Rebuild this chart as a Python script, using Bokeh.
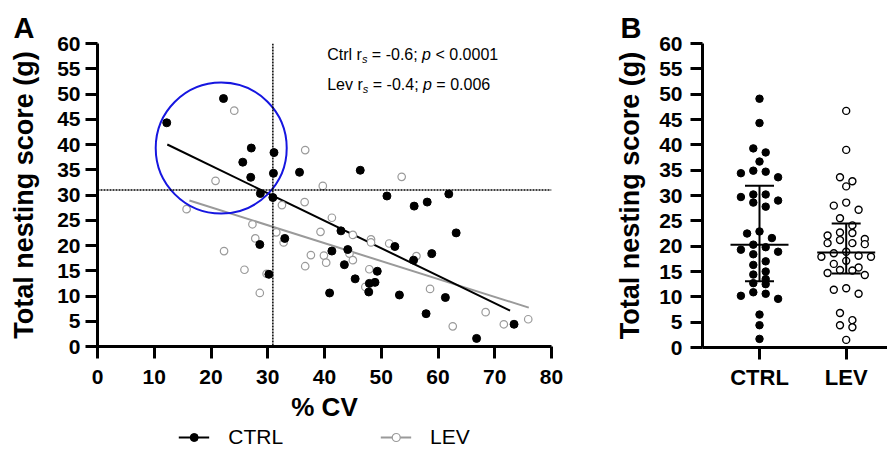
import numpy as np
from bokeh.plotting import figure
from bokeh.layouts import row, column
from bokeh.models import Span, Label, Legend, LegendItem, FixedTicker, Range1d
from bokeh.embed import file_html
from bokeh.resources import INLINE

# ---------------- Panel A data ----------------
ctrl_cv = [12.2, 22.2, 25.6, 27.0, 27.1, 28.6, 28.7, 30.2, 30.9, 31.0, 31.1, 33.0,
           35.6, 40.9, 41.3, 42.9, 43.5, 44.1, 45.4, 46.3, 47.8, 47.9, 48.9, 49.3,
           51.0, 52.4, 53.2, 55.7, 55.8, 57.9, 58.1, 58.9, 61.3, 61.9, 63.2, 66.8, 73.4]
ctrl_nest = [44.3, 49.1, 36.5, 33.5, 39.3, 20.2, 30.3, 14.3, 29.5, 34.3, 38.4, 21.4,
             34.5, 10.6, 18.9, 22.9, 16.2, 19.2, 13.4, 34.9, 10.8, 12.5, 12.7, 14.9,
             29.8, 19.8, 10.2, 17.1, 27.8, 6.5, 28.6, 18.4, 9.7, 30.2, 22.5, 1.6, 4.4]
lev_cv = [15.7, 20.8, 22.3, 24.1, 25.9, 27.3, 27.8, 28.6, 29.8, 31.5, 32.5, 32.8,
          36.5, 36.6, 36.6, 37.6, 39.3, 39.7, 39.9, 40.3, 41.3, 44.4, 45.0, 45.0,
          47.2, 47.9, 48.2, 48.2, 51.4, 53.6, 56.2, 58.6, 62.6, 68.4, 71.6, 75.9]
lev_nest = [27.2, 32.8, 18.9, 46.7, 15.2, 24.2, 21.4, 10.6, 14.4, 22.6, 28.0, 20.6,
            28.6, 38.9, 15.9, 18.1, 22.7, 31.8, 18.0, 16.6, 25.5, 18.4, 22.1, 17.1,
            11.8, 15.3, 21.2, 20.6, 20.4, 33.6, 17.9, 11.4, 4.0, 6.8, 4.4, 5.4]
ctrl_fit_cv = [12.3, 72.7]
ctrl_fit_nest = [40.0, 7.1]
lev_fit_cv = [16.2, 76.0]
lev_fit_nest = [28.9, 7.7]
cv_cutoff = 30.9
nest_cutoff = 31.0
highlight_cv = [21.8]
highlight_nest = [39.3]
x_ticks_a = list(range(0, 81, 10))
y_ticks = list(range(0, 61, 5))

# ---------------- Panel B data ----------------
groups = ["CTRL", "LEV"]
ctrl_b = [49.1, 44.3, 39.3, 38.5, 36.7, 34.9, 34.7, 34.4, 33.6, 30.2, 30.2, 29.7,
          29.0, 28.6, 27.8, 22.9, 22.5, 21.6, 20.3, 19.8, 19.3, 18.9, 18.4, 17.0,
          16.3, 15.0, 14.4, 13.5, 12.7, 12.5, 10.9, 10.6, 10.2, 9.6, 6.5, 4.4, 1.7]
lev_b = [46.7, 39.0, 33.6, 32.8, 31.8, 28.6, 28.0, 27.2, 25.5, 24.1, 22.7, 22.6,
         22.1, 21.4, 21.2, 20.6, 20.6, 20.4, 18.9, 18.6, 18.1, 17.9, 17.9, 17.1,
         16.5, 15.8, 15.3, 15.2, 14.7, 14.3, 11.7, 11.4, 10.6, 6.8, 5.4, 4.4, 4.0, 1.5]

FONT = "Liberation Sans"
H_TOTAL = 449
H_LEG = 25
H_A = H_TOTAL - H_LEG
TOP = 43
FRAME_H = 304
PX_PER_Y = FRAME_H / 60.0

CTRL_STYLE = dict(marker="circle", size=8, fill_color="black", line_color="black")
LEV_STYLE = dict(marker="circle", size=7.5, fill_color="white", line_color="#9a9a9a",
                 line_width=1.2)


def style_axes(p, xlab_size, xlab_standoff, ylab_standoff, ytick_standoff, xtick_standoff):
    for ax in [p.xaxis[0], p.yaxis[0]]:
        ax.axis_line_width = 3
        ax.axis_line_color = "black"
        ax.major_tick_line_width = 3
        ax.major_tick_line_color = "black"
        ax.major_tick_out = 12
        ax.major_tick_in = 0
        ax.minor_tick_out = 0
        ax.minor_tick_in = 0
        ax.major_label_text_font = FONT
        ax.major_label_text_font_style = "bold"
        ax.major_label_text_color = "black"
        ax.axis_label_text_font = FONT
        ax.axis_label_text_font_style = "bold"
        ax.axis_label_text_color = "black"
    p.yaxis[0].major_label_text_font_size = "21px"
    p.yaxis[0].axis_label_text_font_size = "27px"
    p.yaxis[0].axis_label_standoff = ylab_standoff
    p.yaxis[0].major_label_standoff = ytick_standoff
    p.xaxis[0].major_label_text_font_size = xlab_size
    p.xaxis[0].axis_label_text_font_size = "26px"
    p.xaxis[0].axis_label_standoff = xlab_standoff
    p.xaxis[0].major_label_standoff = xtick_standoff
    p.xgrid.visible = False
    p.ygrid.visible = False
    p.outline_line_color = None
    p.yaxis[0].ticker = FixedTicker(ticks=y_ticks)


def set_title(p, text, offset):
    p.title.text = text
    p.title.align = "left"
    p.title.offset = offset
    p.title.standoff = 0
    p.title.text_font = FONT
    p.title.text_font_size = "29px"
    p.title.text_font_style = "bold"
    p.title.text_color = "black"


# ======================= Panel A =======================
A_LEFT = 97
A_FRAME_W = 454
WA = 606
pa = figure(width=WA, height=H_A, output_backend="svg", toolbar_location=None,
            x_range=Range1d(0, 80), y_range=Range1d(0, 60),
            min_border_left=A_LEFT, min_border_right=WA - A_LEFT - A_FRAME_W,
            min_border_top=TOP, min_border_bottom=H_A - TOP - FRAME_H,
            x_axis_label="% CV", y_axis_label="Total nesting score (g)")
set_title(pa, "A", 13 - A_LEFT)
style_axes(pa, "21px", 5, 15, 5, 11)
pa.xaxis[0].ticker = FixedTicker(ticks=x_ticks_a)

pa.add_layout(Span(location=nest_cutoff, dimension="width", line_color="black",
                   line_width=1.5, line_dash="2 1"))
pa.add_layout(Span(location=cv_cutoff, dimension="height", line_color="black",
                   line_width=1.5, line_dash="2 1"))

pa.line(lev_fit_cv, lev_fit_nest, line_color="#9a9a9a", line_width=2)
pa.line(ctrl_fit_cv, ctrl_fit_nest, line_color="black", line_width=2)
pa.scatter(lev_cv, lev_nest, **LEV_STYLE)
pa.scatter(ctrl_cv, ctrl_nest, **CTRL_STYLE)
pa.scatter(highlight_cv, highlight_nest, marker="circle", size=131, fill_alpha=0,
           line_color="#1616e0", line_width=2)


def add_stats(p, x, y, name, rs, ptxt):
    base = dict(x=x, y=y, text_font=FONT, text_font_size="16px", text_color="black",
                text_baseline="alphabetic")
    sp = 4.45
    name_w = {"Ctrl": 34.7, "Lev": 35.6}[name]
    p.add_layout(Label(text=name + " r", x_offset=0, **base))
    sub = dict(base)
    sub["y"] = y - 4.0 / PX_PER_Y
    sub["text_font_size"] = "11px"
    p.add_layout(Label(text="s", x_offset=name_w, text_font_style="italic", **sub))
    x_eq = name_w + 5.5 + sp
    p.add_layout(Label(text="= " + rs + ";", x_offset=x_eq, **base))
    x_p = x_eq + 45.8 + sp
    p.add_layout(Label(text="p", x_offset=x_p, text_font_style="italic", **base))
    p.add_layout(Label(text=ptxt, x_offset=x_p + 8.9 + sp, **base))


add_stats(pa, 40.48, 57.77, "Ctrl", "-0.6", "< 0.0001")
add_stats(pa, 40.48, 51.85, "Lev", "-0.4", "= 0.006")

# ----- legend strip under panel A (its glyph renderers lie outside its view) -----
lf = figure(width=WA, height=H_LEG, output_backend="svg", toolbar_location=None,
            x_range=Range1d(-3, -2), y_range=Range1d(-3, -2),
            min_border_left=A_LEFT, min_border_right=WA - A_LEFT - A_FRAME_W,
            min_border_top=0, min_border_bottom=0,
            x_axis_location=None, y_axis_location=None)
lf.outline_line_color = None
lf.xgrid.visible = False
lf.ygrid.visible = False
leg_ctrl_line = lf.line(ctrl_fit_cv, ctrl_fit_nest, line_color="black", line_width=2)
leg_ctrl_pt = lf.scatter(ctrl_cv, ctrl_nest, **CTRL_STYLE)
leg_lev_line = lf.line(lev_fit_cv, lev_fit_nest, line_color="#9a9a9a", line_width=2)
leg_lev_pt = lf.scatter(lev_cv, lev_nest, **LEV_STYLE)
legend = Legend(items=[LegendItem(label=groups[0], renderers=[leg_ctrl_line, leg_ctrl_pt]),
                       LegendItem(label=groups[1], renderers=[leg_lev_line, leg_lev_pt])],
                orientation="horizontal", location="center", padding=0, margin=0,
                spacing=97, glyph_width=31, glyph_height=20, label_standoff=19,
                label_text_font=FONT, label_text_font_size="21px", label_text_color="black",
                border_line_alpha=0, background_fill_alpha=0)
lf.add_layout(legend)

# ======================= Panel B =======================
TOTAL_W = 887
WB = TOTAL_W - WA
B_LEFT = 702 - WA
px_per_x_b = 86.7
B_XR = (1 - 57.0 / px_per_x_b, 1 + (WB - B_LEFT - 57.0) / px_per_x_b)

pb = figure(width=WB, height=H_TOTAL, output_backend="svg", toolbar_location=None,
            x_range=Range1d(*B_XR), y_range=Range1d(0, 60),
            min_border_left=B_LEFT, min_border_right=0, min_border_top=TOP,
            min_border_bottom=H_TOTAL - TOP - FRAME_H, y_axis_label="Total nesting score (g)")
set_title(pb, "B", 620 - 702)
style_axes(pb, "22px", 10, 11, 8, 5)
pb.xaxis[0].ticker = FixedTicker(ticks=[1, 2])
pb.xaxis[0].major_label_overrides = {1: groups[0], 2: groups[1]}


def swarm(vals, center, step_px=12.4, row_px=7.5):
    vals = np.asarray(vals, dtype=float)
    order = np.argsort(-vals, kind="stable")
    rows, cur = [], []
    for i in order:
        if cur and (vals[cur[0]] - vals[i]) * PX_PER_Y > row_px:
            rows.append(cur)
            cur = []
        cur.append(i)
    rows.append(cur)
    xs = np.zeros(len(vals))
    for r in rows:
        n = len(r)
        offs = (np.arange(n) - (n - 1) / 2.0) * step_px
        offs = sorted(offs, key=lambda o: (abs(o), o))
        for k, i in enumerate(r):
            xs[i] = center + offs[k] / px_per_x_b
    return xs


def iqr_bars(p, vals, center):
    med = np.median(vals)
    q1, q3 = np.percentile(vals, [25, 75], method="weibull")
    hw_med = 29 / px_per_x_b
    hw_cap = 14.5 / px_per_x_b
    p.segment(x0=[center - hw_med, center - hw_cap, center - hw_cap, center],
              y0=[med, q1, q3, q1],
              x1=[center + hw_med, center + hw_cap, center + hw_cap, center],
              y1=[med, q1, q3, q3], line_color="black", line_width=2)


ctrl_x = swarm(ctrl_b, 1)
lev_x = swarm(lev_b, 2)
pb.scatter(ctrl_x, ctrl_b, marker="circle", size=7.5, fill_color="black", line_color="black")
pb.scatter(lev_x, lev_b, marker="circle", size=7, fill_color="white", line_color="black",
           line_width=1.4)
iqr_bars(pb, ctrl_b, 1)
iqr_bars(pb, lev_b, 2)

layout = row(column(pa, lf), pb)
open("out.html", "w").write(file_html(layout, INLINE))
